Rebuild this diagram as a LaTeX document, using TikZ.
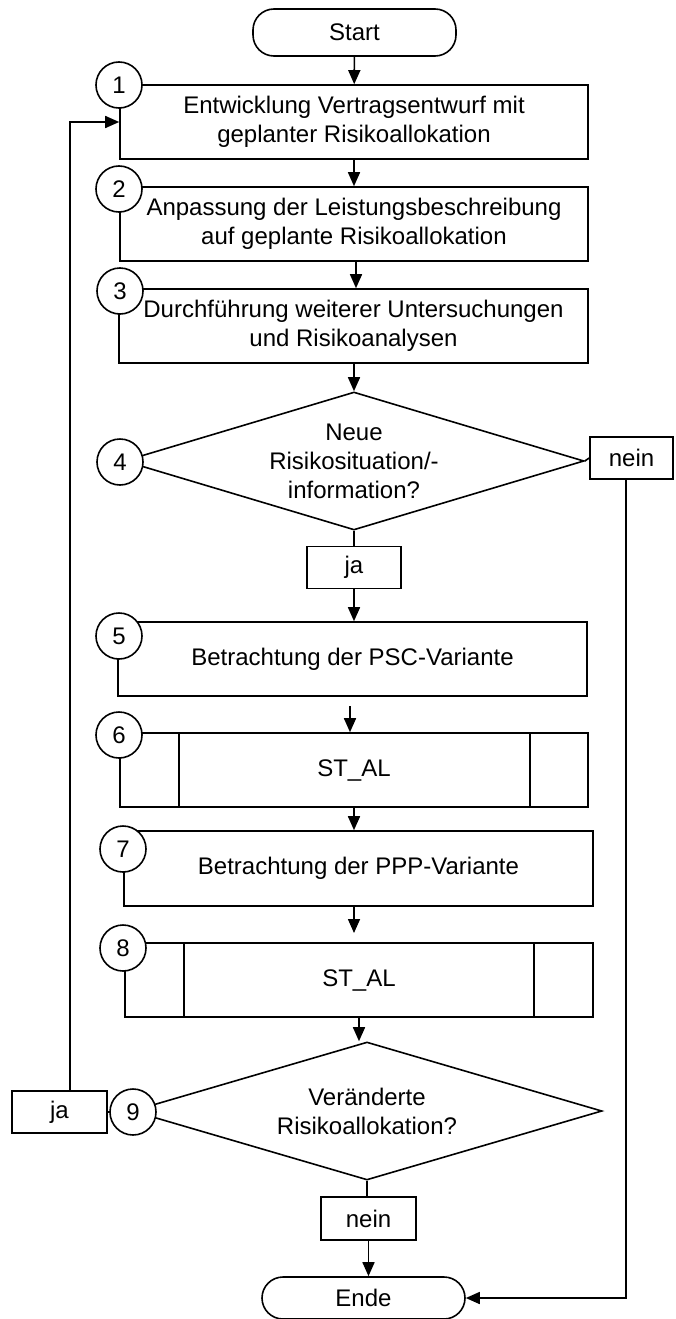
\documentclass[tikz,border=0pt]{standalone}
\usepackage{fontspec}
\setmainfont{Liberation Sans}
\usetikzlibrary{shapes.geometric,arrows.meta,calc}
\begin{document}
\begin{tikzpicture}[x=1pt,y=-1pt,line width=1.6pt,
  txt/.style={font=\fontsize{24}{29}\selectfont},
  box/.style={draw,rectangle,inner sep=0pt,align=center,txt,minimum width=#1},
  proc/.style={box=468,minimum height=74},
  term/.style={draw,rectangle,rounded corners=21pt,inner sep=0pt,txt,minimum width=203,minimum height=#1},
  dec/.style={draw,diamond,inner sep=0pt,align=center,txt,aspect=3.3,minimum height=138,minimum width=#1},
  lab/.style={box=#1,minimum height=42},
  num/.style={draw,circle,fill=white,inner sep=0pt,minimum size=46,txt},
  arr/.style={-{Triangle[length=14pt,width=12pt]}}]
\useasboundingbox (0,0) rectangle (675,1319);
% terminals
\node[term=47] (start) at (354.5,32.5) {Start};
\node[term=42] (ende) at (363.5,1298) {Ende};
% process boxes
\node[proc] (b1) at (354,122) {Entwicklung Vertragsentwurf mit\\geplanter Risikoallokation};
\node[proc] (b2) at (354,224) {Anpassung der Leistungsbeschreibung\\auf geplante Risikoallokation};
\node[proc,minimum width=469] (b3) at (353.5,326) {Durchführung weiterer Untersuchungen\\und Risikoanalysen};
\node[proc,minimum width=469] (b5) at (352.5,659) {Betrachtung der PSC-Variante};
\node[proc] (b6) at (354,770) {ST\_AL};
\draw (179,733) -- (179,807) (530,733) -- (530,807);
\node[proc,minimum width=469,minimum height=75] (b7) at (358.5,868.5) {Betrachtung der PPP-Variante};
\node[proc] (b8) at (359,980) {ST\_AL};
\draw (184,943) -- (184,1017) (534,943) -- (534,1017);
% decisions
\node[dec=460] (d4) at (354,461) {Neue\\Risikosituation/-\\information?};
\node[dec=470] (d9) at (367,1111) {Veränderte\\Risikoallokation?};
% labels
\node[lab=83] (nein1) at (631.5,458) {nein};
\node[lab=94] (ja1) at (354,567.5) {ja};
\node[lab=95] (ja2) at (59.5,1112) {ja};
\node[lab=95,minimum height=43] (nein2) at (368.5,1218.5) {nein};
% coordinates for free ends
\coordinate (a6) at (350,706);
\coordinate (a8) at (354,933);
\coordinate (fb) at (70,0);
\coordinate (nx) at (626,0);
% connectors
\draw[arr] (start) -- (b1);
\draw[arr] (b1) -- (b2);
\draw[arr] (b2.south -| 356,0) -- (b3.north -| 356,0);
\draw[arr] (b3.south -| d4.north) -- (d4.north);
\draw (d4.south) -- (ja1.north);
\draw[arr] (ja1.south) -- (ja1.south |- b5.north);
\draw[arr] (a6) -- (a6 |- b6.north);
\draw[arr] (b6.south) -- (b6.south |- b7.north);
\draw[arr] (b7.south -| a8) -- (a8);
\draw[arr] (b8.south) -- (b8.south |- d9.north);
\draw (d9.south) -- (d9.south |- nein2.north);
\draw[arr] (nein2.south) -- (nein2.south |- ende.north);
\draw (d4.east) -- (nein1.west);
\draw[arr] (nein1.south -| nx) -- (nx |- ende.east) -- (ende.east);
\draw (ja2.east) -- (d9.west);
\draw[arr] (ja2.north -| fb) |- (b1.west);
% number circles
\node[num] (c1) at (119,85) {1};
\node[num] (c2) at (119,189) {2};
\node[num] (c3) at (120,291) {3};
\node[num] (c4) at (120,462) {4};
\node[num] (c5) at (119,636) {5};
\node[num] (c6) at (119,735) {6};
\node[num] (c7) at (123,849) {7};
\node[num] (c8) at (123,948) {8};
\node[num] (c9) at (133,1112) {9};
\end{tikzpicture}
\end{document}
